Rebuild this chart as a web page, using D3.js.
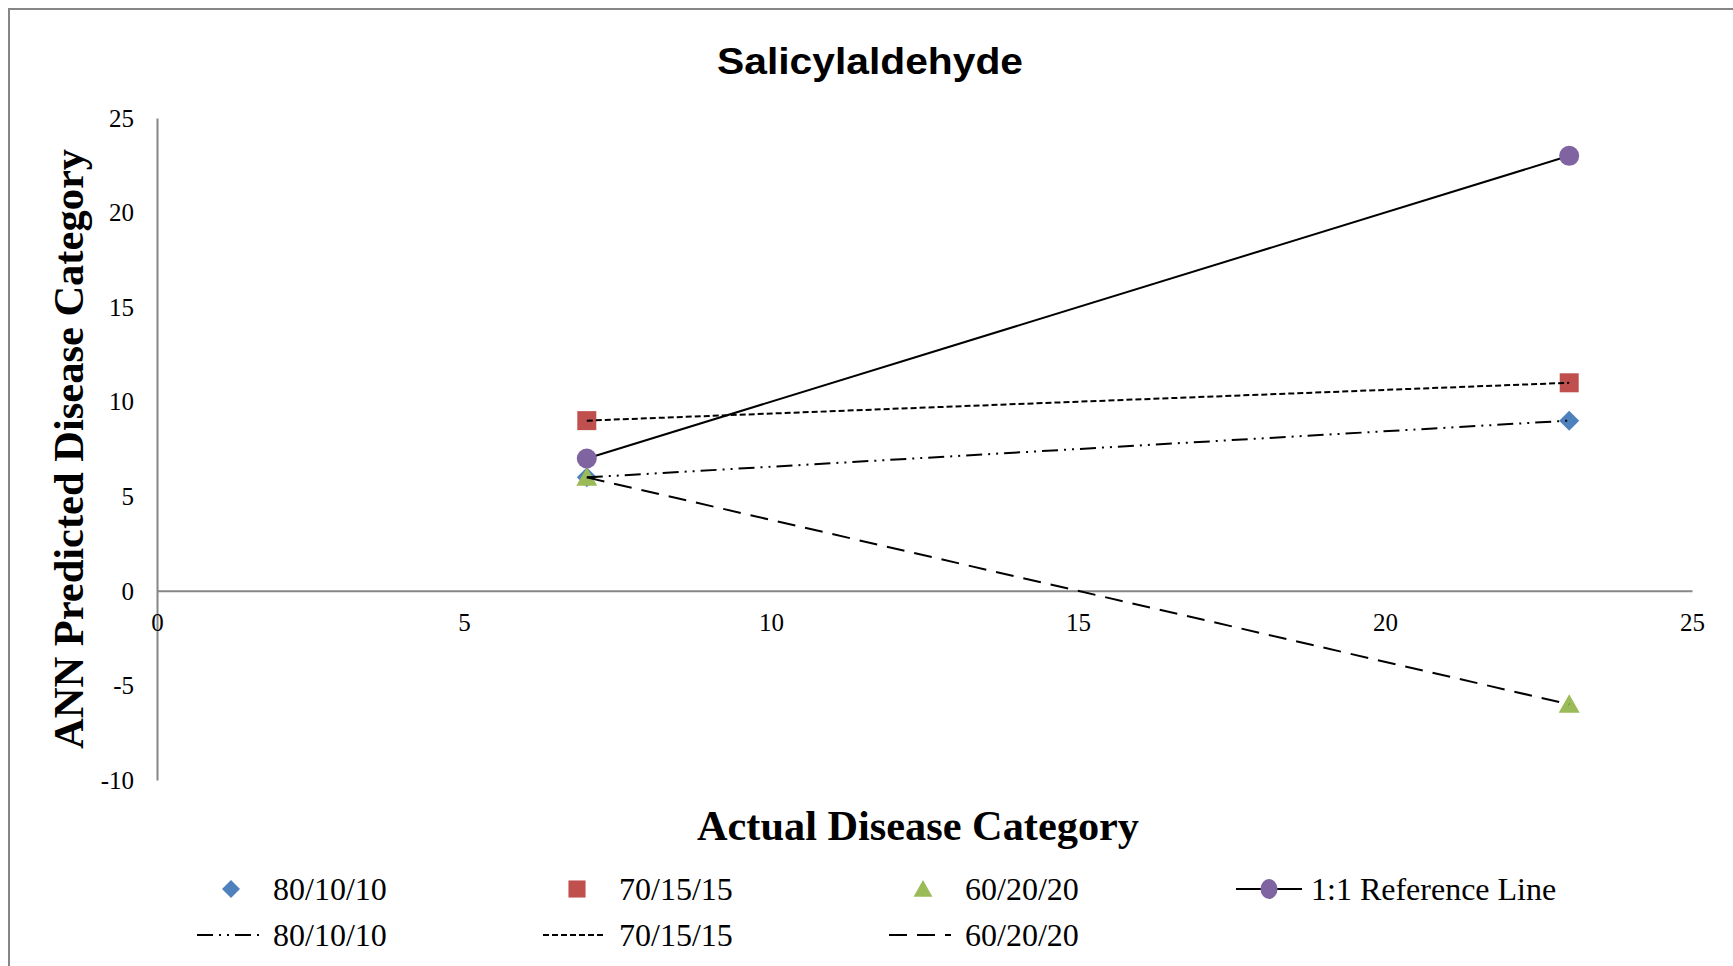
<!DOCTYPE html>
<html>
<head>
<meta charset="utf-8">
<script src="https://cdnjs.cloudflare.com/ajax/libs/d3/7.8.5/d3.min.js"></script>
<style>
  html, body { margin: 0; padding: 0; background: #ffffff; }
  svg { display: block; }
</style>
</head>
<body>
<svg id="chart" width="1733" height="966"></svg>
<script>
// Actual vs. predicted disease category for Salicylaldehyde
const actual = [7, 23];
const pred801010 = [6, 9];
const pred701515 = [9, 11];
const pred602020 = [6, -6];
const reference = [7, 23];

const xTicks = [0, 5, 10, 15, 20, 25];
const yTicks = [-10, -5, 0, 5, 10, 15, 20, 25];

const seriesNames = ["80/10/10", "70/15/15", "60/20/20", "1:1 Reference Line"];
const seriesColors = ["#4F81BD", "#C0504D", "#9BBB59", "#8064A2"];
const seriesValues = [pred801010, pred701515, pred602020, reference];
const seriesShapes = ["diamond", "square", "triangle", "circle"];
const lineDashes = ["16,6,2,6,2,6", "6,3", "18,10", null];

const svg = d3.select("#chart");
const W = 1733, H = 966;

// outer chart frame
svg.append("rect")
  .attr("x", 9).attr("y", 9)
  .attr("width", W + 20).attr("height", H + 20)
  .attr("fill", "#ffffff")
  .attr("stroke", "#868686").attr("stroke-width", 2);

const x = d3.scaleLinear().domain([0, 25]).range([157, 1692]);
const y = d3.scaleLinear().domain([-10, 25]).range([780, 118]);

const serif = "'Liberation Serif', 'Times New Roman', serif";
const plain = d => String(d);   // hyphen-minus for negatives

// title
svg.append("text")
  .attr("x", 870).attr("y", 74)
  .attr("text-anchor", "middle")
  .attr("font-family", "'Liberation Sans', Arial, sans-serif")
  .attr("font-weight", "bold")
  .attr("font-size", 36)
  .attr("textLength", 306)
  .attr("lengthAdjust", "spacingAndGlyphs")
  .attr("fill", "#000")
  .text("Salicylaldehyde");

// y axis
const yAxis = svg.append("g")
  .attr("transform", `translate(${x(0)},0)`)
  .call(d3.axisLeft(y).tickValues(yTicks).tickSize(0).tickPadding(23).tickFormat(plain));
yAxis.select(".domain").attr("stroke", "#868686").attr("stroke-width", 2);
yAxis.selectAll("text")
  .attr("font-family", serif).attr("font-size", 25).attr("fill", "#000")
  .attr("dy", "0.33em");

// x axis at y = 0
const xAxis = svg.append("g")
  .attr("transform", `translate(0,${y(0)})`)
  .call(d3.axisBottom(x).tickValues(xTicks).tickSize(0).tickPadding(22).tickFormat(plain));
xAxis.select(".domain").attr("stroke", "#868686").attr("stroke-width", 2);
xAxis.selectAll("text")
  .attr("font-family", serif).attr("font-size", 25).attr("fill", "#000");

// axis titles
svg.append("text")
  .attr("x", 918).attr("y", 840)
  .attr("text-anchor", "middle")
  .attr("font-family", serif).attr("font-weight", "bold").attr("font-size", 42)
  .attr("textLength", 442).attr("lengthAdjust", "spacingAndGlyphs")
  .text("Actual Disease Category");

svg.append("text")
  .attr("transform", "translate(83,449) rotate(-90)")
  .attr("text-anchor", "middle")
  .attr("font-family", serif).attr("font-weight", "bold").attr("font-size", 42)
  .attr("textLength", 600).attr("lengthAdjust", "spacingAndGlyphs")
  .text("ANN Predicted Disease Category");

// marker shapes
function markerPath(shape) {
  switch (shape) {
    case "diamond": return "M0,-10L10,0L0,10L-10,0Z";
    case "square": return "M-9.5,-9.5H9.5V9.5H-9.5Z";
    case "triangle": return "M0,-10L10.5,8.5H-10.5Z";
    case "circle": return "M10,0A10,10 0 1,1 -10,0A10,10 0 1,1 10,0Z";
  }
}

const line = d3.line().x(d => x(d[0])).y(d => y(d[1]));
const pairs = vals => actual.map((a, i) => [a, vals[i]]);

// marker-only series and the 1:1 reference line
seriesValues.forEach((vals, s) => {
  const g = svg.append("g");
  if (s === 3) {
    g.append("path").datum(pairs(vals))
      .attr("d", line).attr("fill", "none")
      .attr("stroke", "#000").attr("stroke-width", 2);
  }
  g.selectAll("path.mark").data(pairs(vals)).join("path")
    .attr("class", "mark")
    .attr("transform", d => `translate(${x(d[0])},${y(d[1])})`)
    .attr("d", markerPath(seriesShapes[s]))
    .attr("fill", seriesColors[s]);
});

// black connecting lines for the three splits
[0, 1, 2].forEach(s => {
  svg.append("path").datum(pairs(seriesValues[s]))
    .attr("d", line).attr("fill", "none")
    .attr("stroke", "#000").attr("stroke-width", 2)
    .attr("stroke-dasharray", lineDashes[s]);
});

// legend
const legX0 = 273, legStep = 346, row1 = 889, row2 = 935;
const legend = svg.append("g")
  .attr("font-family", serif).attr("font-size", 32).attr("fill", "#000");

seriesNames.forEach((name, s) => {
  const tx = legX0 + s * legStep;
  if (s === 3) {
    legend.append("line")
      .attr("x1", tx - 75).attr("x2", tx - 9).attr("y1", row1).attr("y2", row1)
      .attr("stroke", "#000").attr("stroke-width", 2);
    legend.append("path")
      .attr("transform", `translate(${tx - 42},${row1}) scale(0.85,1)`)
      .attr("d", markerPath("circle")).attr("fill", seriesColors[s]);
  } else {
    legend.append("path")
      .attr("transform", `translate(${tx - 42},${row1}) scale(0.9)`)
      .attr("d", markerPath(seriesShapes[s])).attr("fill", seriesColors[s]);
  }
  legend.append("text").attr("x", tx).attr("y", row1).attr("dy", "0.35em").text(name);
});

[0, 1, 2].forEach(s => {
  const tx = legX0 + s * legStep;
  legend.append("line")
    .attr("x1", tx - 76).attr("x2", tx - 14).attr("y1", row2).attr("y2", row2)
    .attr("stroke", "#000").attr("stroke-width", 2)
    .attr("stroke-dasharray", lineDashes[s]);
  legend.append("text").attr("x", tx).attr("y", row2).attr("dy", "0.35em").text(seriesNames[s]);
});
</script>
</body>
</html>
